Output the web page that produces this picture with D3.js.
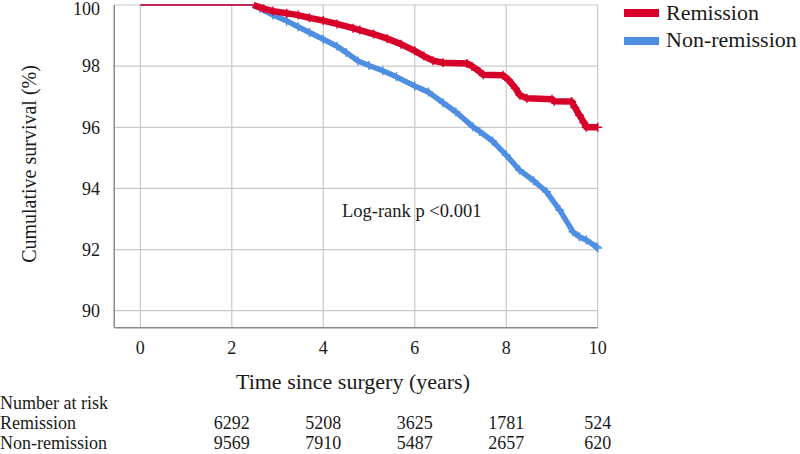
<!DOCTYPE html>
<html>
<head>
<meta charset="utf-8">
<script src="https://cdn.jsdelivr.net/npm/d3@7"></script>
<style>
  html, body { margin: 0; padding: 0; background: #fff; }
  svg { display: block; }
  text { font-family: "Liberation Serif", "Times New Roman", serif; fill: #1a1a1a; }
</style>
</head>
<body>
<svg id="chart" width="800" height="454"></svg>
<script>
// ---- Data ----
const remissionTime  = [0, 2.47, 2.7, 2.9, 3.2, 3.45, 3.7, 4.0, 4.3, 4.65, 4.8, 5.1, 5.4, 5.7, 6.0, 6.2, 6.4, 6.62, 7.14, 7.25, 7.42, 7.5, 7.93, 8.05, 8.2, 8.3, 8.45, 9.0, 9.05, 9.43, 9.5, 9.6, 9.7, 9.75, 10.0];
const remissionSurv  = [100, 100, 99.88, 99.80, 99.73, 99.67, 99.58, 99.49, 99.38, 99.24, 99.18, 99.05, 98.90, 98.72, 98.50, 98.33, 98.18, 98.11, 98.09, 98.00, 97.82, 97.72, 97.70, 97.55, 97.28, 97.05, 96.95, 96.92, 96.85, 96.84, 96.65, 96.40, 96.15, 96.00, 96.00];
const nonRemTime     = [0, 2.47, 2.62, 2.9, 3.2, 3.45, 3.7, 4.0, 4.3, 4.5, 4.76, 5.0, 5.3, 5.6, 6.0, 6.3, 6.62, 6.9, 7.27, 7.42, 7.7, 8.0, 8.29, 8.6, 8.88, 9.17, 9.46, 9.6, 9.75, 9.97, 10.0];
const nonRemSurv     = [100, 100, 99.89, 99.67, 99.48, 99.29, 99.10, 98.88, 98.65, 98.45, 98.17, 98.02, 97.85, 97.65, 97.35, 97.15, 96.80, 96.50, 96.02, 95.86, 95.55, 95.09, 94.60, 94.25, 93.89, 93.29, 92.58, 92.42, 92.31, 92.09, 92.05];
const xTicks = [0, 2, 4, 6, 8, 10];
const yTicks = [90, 92, 94, 96, 98, 100];
const seriesNames = ["Remission", "Non-remission"];
const riskTimes = [2, 4, 6, 8, 10];
const riskRemission = [6292, 5208, 3625, 1781, 524];
const riskNonRemission = [9569, 7910, 5487, 2657, 620];
const annotation = "Log-rank p <0.001";

// ---- Layout ----
const colors = ["#d7002b", "#4f8fe2"];
const svg = d3.select("#chart");
const x = d3.scaleLinear().domain([0, 10]).range([140.3, 597.7]);
const y = d3.scaleLinear().domain([90, 100]).range([310.7, 5]);
const xMin = -0.57, yMin = 89.44;

// gridlines
const grid = svg.append("g");
grid.selectAll("line.h").data(yTicks).join("line")
  .attr("x1", x(xMin)).attr("x2", x(10))
  .attr("y1", d => y(d)).attr("y2", d => y(d))
  .attr("stroke", "#c9c9c9").attr("stroke-width", 1.2);
grid.selectAll("line.v").data(xTicks).join("line")
  .attr("y1", y(100)).attr("y2", y(yMin))
  .attr("x1", d => x(d)).attr("x2", d => x(d))
  .attr("stroke", "#c9c9c9").attr("stroke-width", 1.2);
// axis lines (left & bottom)
svg.append("line").attr("x1", x(xMin)).attr("x2", x(xMin)).attr("y1", y(100)).attr("y2", y(yMin))
  .attr("stroke", "#8a8a8a").attr("stroke-width", 1.5);
svg.append("line").attr("x1", x(xMin)).attr("x2", x(10)).attr("y1", y(yMin)).attr("y2", y(yMin))
  .attr("stroke", "#8a8a8a").attr("stroke-width", 1.5);

// tick labels
svg.append("g").selectAll("text").data(yTicks).join("text")
  .attr("x", 100).attr("y", d => Math.max(y(d), 9)).attr("dy", "0.35em")
  .attr("text-anchor", "end").attr("font-size", 18).text(d => d);
svg.append("g").selectAll("text").data(xTicks).join("text")
  .attr("x", d => x(d)).attr("y", 354)
  .attr("text-anchor", "middle").attr("font-size", 18).text(d => d);

// axis titles
svg.append("text").attr("transform", "translate(36,164) rotate(-90)")
  .attr("text-anchor", "middle").attr("font-size", 20).text("Cumulative survival (%)");
svg.append("text").attr("x", 353).attr("y", 389)
  .attr("text-anchor", "middle").attr("font-size", 22).text("Time since surgery (years)");

// curves
const series = [
  remissionTime.map((t, i) => ({t, s: remissionSurv[i]})),
  nonRemTime.map((t, i) => ({t, s: nonRemSurv[i]}))
];
const line = d3.line().x(d => x(d.t)).y(d => y(d.s));
const curves = svg.append("g");
// draw non-remission first, remission on top
[1, 0].forEach(k => {
  const pts = series[k];
  const startIdx = pts.findIndex(d => d.s < 100) - 1;
  const flat = pts.slice(0, startIdx + 1);
  const drop = pts.slice(startIdx);
  curves.append("path").datum(flat).attr("d", line)
    .attr("fill", "none").attr("stroke", colors[k]).attr("stroke-width", 1.6);
  curves.append("path").datum(drop).attr("d", line)
    .attr("fill", "none").attr("stroke", colors[k])
    .attr("stroke-width", k === 0 ? 6.5 : 5.5).attr("stroke-linejoin", "round");
  // censor marks (+)
  const cs = 4.5;
  curves.append("g").selectAll("path").data(drop.slice(1)).join("path")
    .attr("d", d => `M${x(d.t) - cs},${y(d.s)}h${2 * cs}M${x(d.t)},${y(d.s) - cs}v${2 * cs}`)
    .attr("stroke", colors[k]).attr("stroke-width", 1.5);
});

// annotation
svg.append("text").attr("x", 342).attr("y", 217).attr("font-size", 18.5).text(annotation);

// legend
const legend = svg.append("g");
seriesNames.forEach((name, i) => {
  legend.append("rect").attr("x", 624).attr("y", 9 + i * 28).attr("width", 35).attr("height", 8)
    .attr("fill", colors[i]);
  legend.append("text").attr("x", 666).attr("y", 20 + i * 27).attr("font-size", 22).text(name);
});

// number at risk table
const table = svg.append("g");
table.append("text").attr("x", 0).attr("y", 409).attr("font-size", 18).text("Number at risk");
table.append("text").attr("x", 0).attr("y", 429).attr("font-size", 18).text(seriesNames[0]);
table.append("text").attr("x", 0).attr("y", 449).attr("font-size", 18).text(seriesNames[1]);
table.append("g").selectAll("text").data(riskRemission).join("text")
  .attr("x", (d, i) => x(riskTimes[i])).attr("y", 429)
  .attr("text-anchor", "middle").attr("font-size", 18).text(d => d);
table.append("g").selectAll("text").data(riskNonRemission).join("text")
  .attr("x", (d, i) => x(riskTimes[i])).attr("y", 449)
  .attr("text-anchor", "middle").attr("font-size", 18).text(d => d);
</script>
</body>
</html>
